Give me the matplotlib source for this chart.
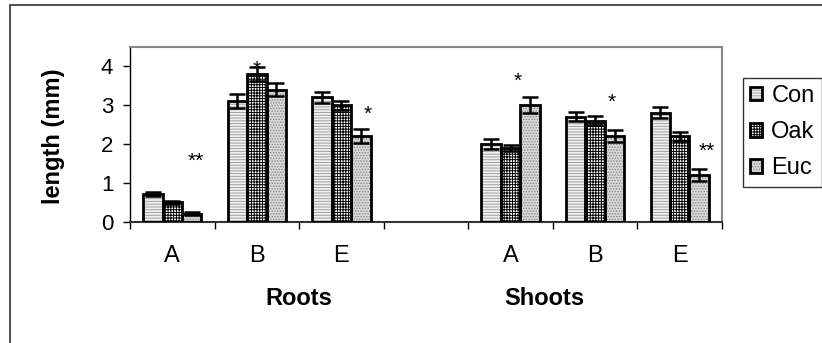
import numpy as np
import matplotlib
matplotlib.use("Agg")
import matplotlib.pyplot as plt
from matplotlib.patches import Rectangle

plt.rcParams['font.family'] = ['Liberation Sans', 'DejaVu Sans']
plt.rcParams['hatch.linewidth'] = 0.7

# data
groups = ['Roots', 'Shoots']
sites = ['A', 'B', 'E']
series = ['Con', 'Oak', 'Euc']
con = [0.70, 3.10, 3.20, 2.00, 2.70, 2.80]
oak = [0.50, 3.80, 3.00, 1.90, 2.60, 2.20]
euc = [0.20, 3.40, 2.20, 3.00, 2.20, 1.20]
con_err = [0.05, 0.18, 0.15, 0.13, 0.12, 0.14]
oak_err = [0.04, 0.18, 0.12, 0.08, 0.12, 0.12]
euc_err = [0.04, 0.16, 0.18, 0.20, 0.15, 0.15]
# significance marks: (x, y, text)
stars = [(0.28, 1.71, '**'), (1.00, 4.08, '*'), (2.31, 2.92, '*'),
         (4.09, 3.78, '*'), (5.20, 3.22, '*'), (6.32, 1.97, '**')]

# Roots at 0..2, empty slot at 3, Shoots at 4..6
x = np.concatenate([np.arange(3), np.arange(3) + 4])
tick_labels = sites + [''] + sites

styles = [
    dict(face='#f0f0f0', hatch='------', hcol='#a0a0a0'),
    dict(face='white', hatch='++++++', hcol='black'),
    dict(face='#d8d8d8', hatch='......', hcol='#8a8a8a'),
]

fig = plt.figure(figsize=(8.22, 3.43), dpi=100)
ax = fig.add_axes([130/822, 1-221.5/343, 592/822, 174.5/343])

w = 0.23
handles = []
for i, (vals, errs, st) in enumerate(zip([con, oak, euc], [con_err, oak_err, euc_err], styles)):
    pos = x + (i - 1) * w
    b1 = ax.bar(pos, vals, w, color=st['face'], hatch=st['hatch'],
                edgecolor=st['hcol'], linewidth=0, zorder=2)
    b2 = ax.bar(pos, vals, w, fill=False, edgecolor='black', linewidth=2.0, zorder=3)
    ax.errorbar(pos, vals, yerr=errs, fmt='none', ecolor='black',
                elinewidth=1.8, capsize=6, capthick=1.8, zorder=4)
    handles.append((b1[0], b2[0]))

for sx, sy, s in stars:
    ax.text(sx, sy - 0.3, s, ha='center', va='baseline', fontsize=15)

ax.set_xlim(-0.5, 6.5)
ax.set_ylim(0, 4.5)
ax.set_yticks([0, 1, 2, 3, 4])
ax.tick_params(axis='y', direction='out', length=5, width=1, labelsize=16, pad=7)
ax.set_xticks(np.arange(-0.5, 7.0, 1.0))
ax.set_xticklabels([])
ax.tick_params(axis='x', direction='out', length=5, width=1)

for xi, lab in zip(range(7), tick_labels):
    ax.text(xi, -0.198, lab, transform=ax.get_xaxis_transform(),
            ha='center', va='center', fontsize=17)
ax.text(1.5, -0.444, groups[0], transform=ax.get_xaxis_transform(),
        ha='center', va='center', fontsize=17, fontweight='bold')
ax.text(4.4, -0.444, groups[1], transform=ax.get_xaxis_transform(),
        ha='center', va='center', fontsize=17, fontweight='bold')

for side in ['top', 'right']:
    ax.spines[side].set_color('#888888')
    ax.spines[side].set_linewidth(1.5)
ax.spines['left'].set_color('black')
ax.spines['left'].set_linewidth(1.0)
ax.spines['bottom'].set_color('#333333')
ax.spines['bottom'].set_linewidth(1.5)

fig.text(53/822, 1-136/343, 'length (mm)', rotation=90, ha='center', va='center',
         fontsize=17, fontweight='bold')

leg = fig.legend(handles, series, loc='upper left', bbox_to_anchor=(743/822, 1-78/343),
                 borderaxespad=0, fontsize=17, frameon=True, fancybox=False,
                 handlelength=0.5, handleheight=0.5, handletextpad=0.4,
                 labelspacing=0.6, borderpad=0.3)
leg.get_frame().set_edgecolor('black')
leg.get_frame().set_linewidth(1.0)

# outer chart border (right/bottom sides fall outside the image)
fig.patches.append(Rectangle((9.5/822, -0.2), 1.5, 1.2 - 4.5/343, transform=fig.transFigure,
                             fill=False, edgecolor='#333333', linewidth=1.2))

fig.savefig('out.png', dpi=100)
